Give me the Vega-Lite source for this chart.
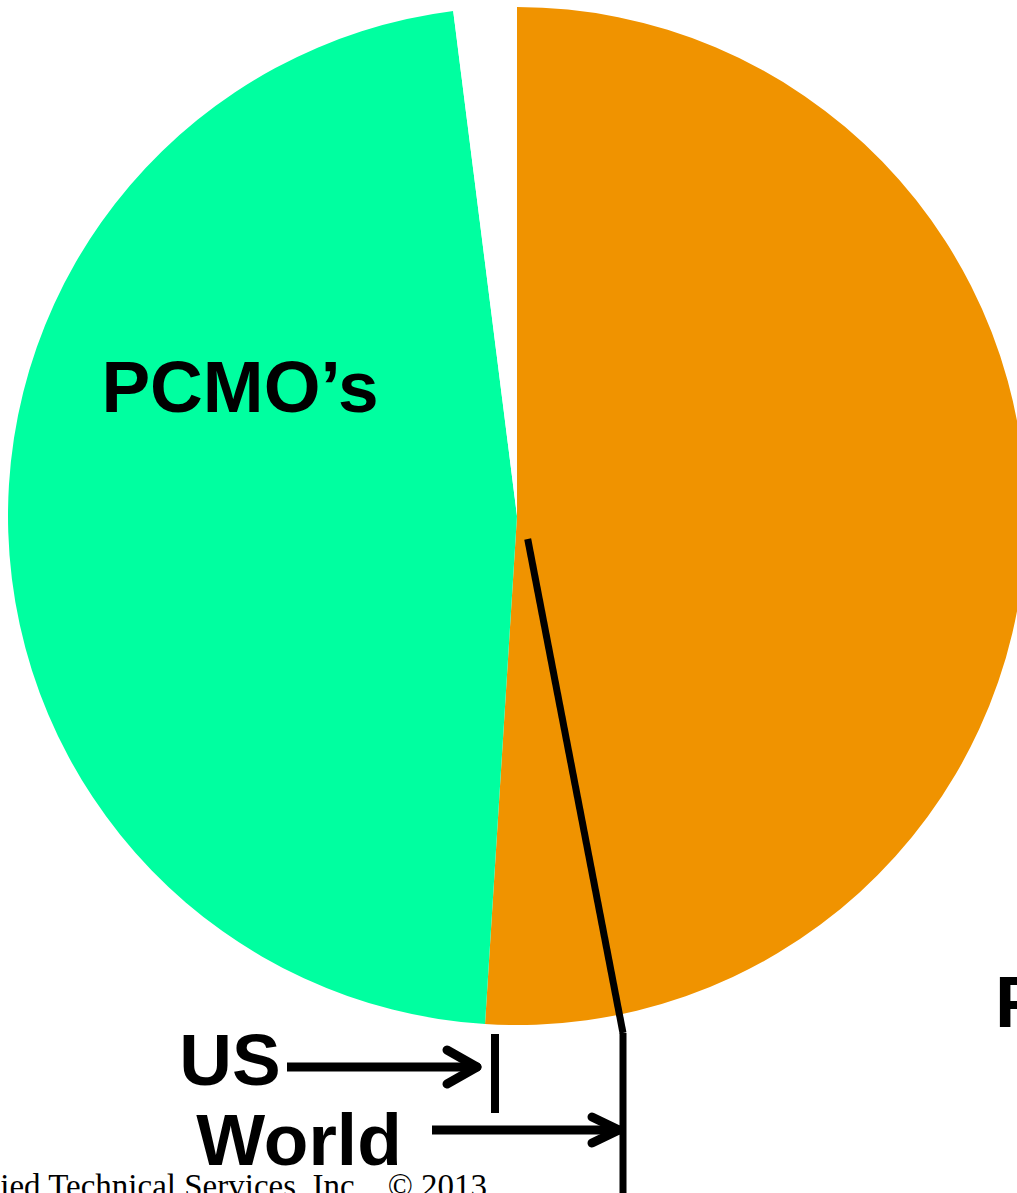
{
  "$schema": "https://vega.github.io/schema/vega-lite/v6.json",
  "width": 1017,
  "height": 1193,
  "padding": 0,
  "autosize": {"type": "none"},
  "background": "#ffffff",
  "config": {"view": {"stroke": null}},
  "datasets": {
    "slices": [
      {"slice": "Other", "share": 51.0, "ord": 1},
      {"slice": "PCMO's", "share": 47.0, "ord": 2},
      {"slice": "gap", "share": 2.0, "ord": 3}
    ],
    "pointer": [
      {"x": 10.7, "y": -23, "x2": 106, "y2": -517}
    ],
    "worldTick": [
      {"x": 106, "y": -517, "x2": 106, "y2": -677}
    ],
    "usTick": [
      {"x": -22, "y": -518, "x2": -22, "y2": -597}
    ],
    "shafts": [
      {"x": -230, "y": -551, "x2": -40, "y2": -551},
      {"x": -85, "y": -614, "x2": 102, "y2": -614}
    ],
    "heads": [
      {"x": -40, "y": -551, "x2": -70, "y2": -534},
      {"x": -40, "y": -551, "x2": -70, "y2": -568},
      {"x": 102, "y": -614, "x2": 75, "y2": -601},
      {"x": 102, "y": -614, "x2": 75, "y2": -627}
    ],
    "bigLabels": [
      {"label": "PCMO’s", "x": -277, "y": 104},
      {"label": "US", "x": -287, "y": -569},
      {"label": "World", "x": -218, "y": -649}
    ],
    "rightLabel": [
      {"label": "P", "x": 478, "y": -511}
    ],
    "footer": [
      {"label": "Applied Technical Services, Inc.\u00a0\u00a0 © 2013", "x": -30, "y": -681}
    ]
  },
  "layer": [
    {
      "data": {"name": "slices"},
      "mark": {"type": "arc", "radius": 509, "stroke": null},
      "encoding": {
        "x": {"datum": 0, "type": "quantitative", "scale": {"domain": [-517, 500], "nice": false, "zero": false}, "axis": null},
        "y": {"datum": 0, "type": "quantitative", "scale": {"domain": [-677, 516], "nice": false, "zero": false}, "axis": null},
        "theta": {"field": "share", "type": "quantitative", "stack": true},
        "order": {"field": "ord", "type": "quantitative"},
        "color": {"field": "slice", "type": "nominal", "legend": null,
          "scale": {"domain": ["Other", "PCMO's", "gap"], "range": ["#F09300", "#00FFA0", "#FFFFFF"]}}
      }
    },
    {
      "data": {"name": "pointer"},
      "mark": {"type": "rule", "color": "#000000", "strokeWidth": 7},
      "encoding": {
        "x": {"field": "x", "type": "quantitative"},
        "y": {"field": "y", "type": "quantitative"},
        "x2": {"field": "x2"},
        "y2": {"field": "y2"}
      }
    },
    {
      "data": {"name": "worldTick"},
      "mark": {"type": "rule", "color": "#000000", "strokeWidth": 7},
      "encoding": {
        "x": {"field": "x", "type": "quantitative"},
        "y": {"field": "y", "type": "quantitative"},
        "x2": {"field": "x2"},
        "y2": {"field": "y2"}
      }
    },
    {
      "data": {"name": "usTick"},
      "mark": {"type": "rule", "color": "#000000", "strokeWidth": 8},
      "encoding": {
        "x": {"field": "x", "type": "quantitative"},
        "y": {"field": "y", "type": "quantitative"},
        "x2": {"field": "x2"},
        "y2": {"field": "y2"}
      }
    },
    {
      "data": {"name": "shafts"},
      "mark": {"type": "rule", "color": "#000000", "strokeWidth": 9},
      "encoding": {
        "x": {"field": "x", "type": "quantitative"},
        "y": {"field": "y", "type": "quantitative"},
        "x2": {"field": "x2"},
        "y2": {"field": "y2"}
      }
    },
    {
      "data": {"name": "heads"},
      "mark": {"type": "rule", "color": "#000000", "strokeWidth": 9, "strokeCap": "round"},
      "encoding": {
        "x": {"field": "x", "type": "quantitative"},
        "y": {"field": "y", "type": "quantitative"},
        "x2": {"field": "x2"},
        "y2": {"field": "y2"}
      }
    },
    {
      "data": {"name": "bigLabels"},
      "mark": {"type": "text", "font": "Liberation Sans", "fontWeight": "bold", "fontSize": 73, "align": "center", "baseline": "alphabetic", "color": "#000000"},
      "encoding": {
        "x": {"field": "x", "type": "quantitative"},
        "y": {"field": "y", "type": "quantitative"},
        "text": {"field": "label"}
      }
    },
    {
      "data": {"name": "rightLabel"},
      "mark": {"type": "text", "font": "Liberation Sans", "fontWeight": "bold", "fontSize": 73, "align": "left", "baseline": "alphabetic", "color": "#000000"},
      "encoding": {
        "x": {"field": "x", "type": "quantitative"},
        "y": {"field": "y", "type": "quantitative"},
        "text": {"field": "label"}
      }
    },
    {
      "data": {"name": "footer"},
      "mark": {"type": "text", "font": "Liberation Serif", "fontSize": 33, "align": "right", "baseline": "alphabetic", "color": "#000000"},
      "encoding": {
        "x": {"field": "x", "type": "quantitative"},
        "y": {"field": "y", "type": "quantitative"},
        "text": {"field": "label"}
      }
    }
  ]
}
